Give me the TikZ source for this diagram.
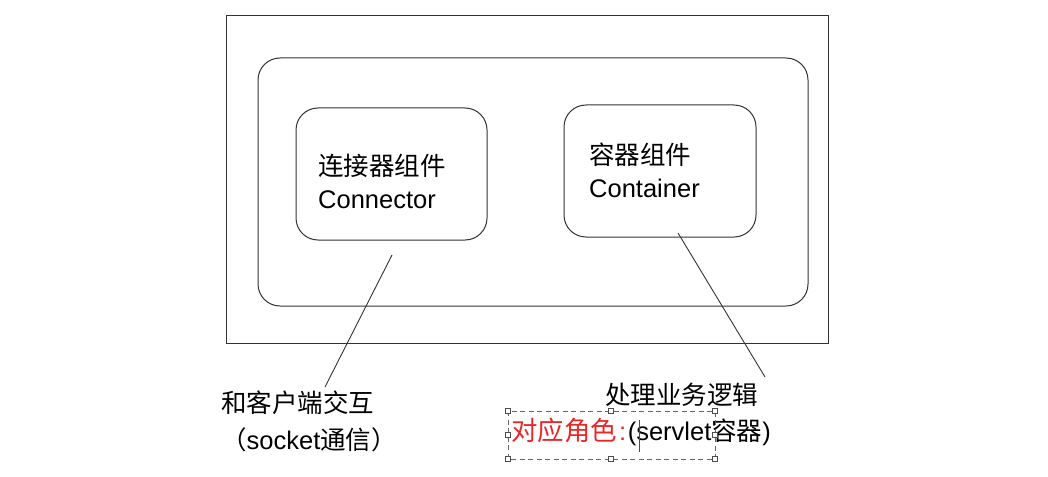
\documentclass[tikz,border=0pt]{standalone}
\usepackage{fontspec}
\setmainfont{Liberation Sans}
\newfontfamily\cjk{Noto Sans CJK SC}
\definecolor{linegray}{RGB}{50,50,50}
\definecolor{hlred}{RGB}{232,40,40}
\tikzset{
  frame/.style={draw=linegray, line width=1pt},
  roundbox/.style={draw=linegray, line width=1pt, rounded corners=22pt},
  lbl/.style={anchor=base west, inner sep=0pt, font=\fontsize{25.5}{30}\selectfont},
  leader/.style={draw=linegray, line width=0.9pt},
  selbox/.style={draw=black!60, line width=0.8pt, dash pattern=on 5pt off 3.5pt},
  handle/.style={draw=black!70, fill=white, line width=0.6pt, minimum size=5pt, inner sep=0pt, rectangle},
}
\begin{document}
\begin{tikzpicture}[x=1pt,y=-1pt]
\useasboundingbox (0,0) rectangle (1048,476);
% frames
\draw[frame] (226,16) rectangle (828,343);
\draw[roundbox] (258,58) rectangle (808,306);
\draw[roundbox] (296,108) rectangle (487,240);
\draw[roundbox] (564,105) rectangle (756,237);
% box texts
\node[lbl] (c1) at (318,175) {\cjk 连接器组件};
\node[lbl] (c2) at (318,208) {Connector};
\node[lbl] (k1) at (589,164) {\cjk 容器组件};
\node[lbl] (k2) at (589,197) {Container};
% leader lines
\coordinate (l1a) at (392,255);
\coordinate (l1b) at (325,387);
\coordinate (l2a) at (678,233);
\coordinate (l2b) at (765,377);
\draw[leader] (l1a) -- (l1b);
\draw[leader] (l2a) -- (l2b);
% bottom left text
\node[lbl] (t1) at (221,412) {\cjk 和客户端交互};
\node[lbl] (t2) at (221,449) {\cjk （{\normalfont socket}通信）};
% bottom right text
\node[lbl] (t3) at (605,404) {\cjk 处理业务逻辑};
\node[lbl] (t4) at (511,440) {{\fontsize{26.5}{30}\selectfont\cjk\color{hlred}对应角色}\kern2pt{\color{hlred}:}\kern1.5pt(servlet{\cjk 容器})};
% selection box and handles
\draw[selbox] (508,411) rectangle (715,459);
\foreach \hx/\hy/\hn in {508/411/ha,611/411/hb,715/411/hc,508/435/hd,715/435/he,508/459/hf,611/459/hg,715/459/hh}
  \node[handle] (\hn) at (\hx,\hy) {};
% text cursor
\coordinate (cura) at (639,420);
\coordinate (curb) at (639,452);
\draw[black!70, line width=0.7pt] (cura) -- (curb);
\end{tikzpicture}
\end{document}
